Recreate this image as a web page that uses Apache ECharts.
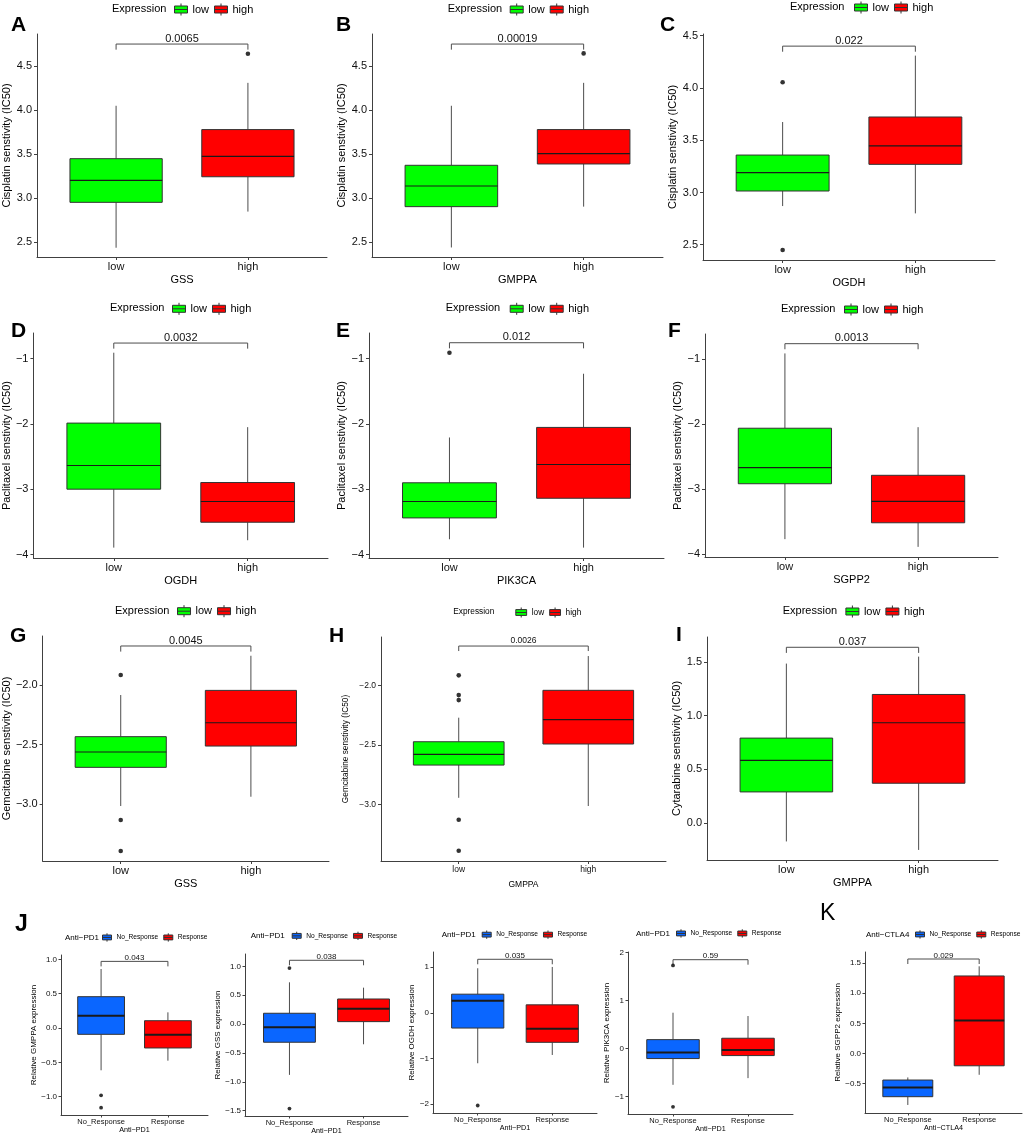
<!DOCTYPE html>
<html>
<head>
<meta charset="utf-8">
<script src="https://cdn.jsdelivr.net/npm/echarts@6/dist/echarts.min.js"></script>
<style>
html, body { margin: 0; padding: 0; background: #fff; }
#container { width: 1024px; height: 1137px; }
</style>
</head>
<body>
<div id="container"></div>
<script type="text/javascript">
// group names
var groupsExpr = ['low', 'high'];
var groupsResp = ['No_Response', 'Response'];

// box stats are [min, q1, median, q3, max]; outliers are [group, value]
var A_low = [2.44, 2.955, 3.205, 3.45, 4.05];
var A_high = [2.85, 3.245, 3.477, 3.78, 4.31];
var A_out = [[2, 4.64]];
var A_ticks = ['2.5', '3.0', '3.5', '4.0', '4.5'];

var B_low = [2.443, 2.906, 3.14, 3.375, 4.05];
var B_high = [2.906, 3.39, 3.508, 3.78, 4.31];
var B_out = [[2, 4.644]];
var B_ticks = ['2.5', '3.0', '3.5', '4.0', '4.5'];

var C_low = [2.87, 3.014, 3.189, 3.358, 3.674];
var C_high = [2.80, 3.269, 3.445, 3.722, 4.309];
var C_out = [[1, 4.054], [1, 2.449]];
var C_ticks = ['2.5', '3.0', '3.5', '4.0', '4.5'];

var D_low = [-3.893, -2.998, -2.635, -1.986, -0.908];
var D_high = [-3.78, -3.504, -3.187, -2.896, -2.048];
var D_out = [];
var D_ticks = ['−4', '−3', '−2', '−1'];

var E_low = [-3.765, -3.438, -3.187, -2.90, -2.206];
var E_high = [-3.893, -3.137, -2.62, -2.052, -1.23];
var E_out = [[1, -0.908]];
var E_ticks = ['−4', '−3', '−2', '−1'];

var F_low = [-3.767, -2.914, -2.667, -2.059, -0.907];
var F_high = [-3.886, -3.515, -3.185, -2.784, -2.043];
var F_out = [];
var F_ticks = ['−4', '−3', '−2', '−1'];

var G_low = [-3.017, -2.692, -2.563, -2.434, -2.084];
var G_high = [-2.939, -2.513, -2.317, -2.045, -1.754];
var G_out = [[1, -1.916], [1, -3.134], [1, -3.395]];
var G_ticks = ['−3.0', '−2.5', '−2.0'];

var H_low = [-2.945, -2.67, -2.58, -2.474, -2.272];
var H_high = [-3.014, -2.493, -2.289, -2.042, -1.754];
var H_out = [[1, -1.916], [1, -2.082], [1, -2.124], [1, -3.129], [1, -3.39]];
var H_ticks = ['−3.0', '−2.5', '−2.0'];

var I_low = [-0.174, 0.288, 0.583, 0.79, 1.485];
var I_high = [-0.253, 0.369, 0.933, 1.197, 1.55];
var I_out = [];
var I_ticks = ['0.0', '0.5', '1.0', '1.5'];

var J1_no = [-0.616, -0.092, 0.179, 0.456, 0.859];
var J1_yes = [-0.476, -0.291, -0.097, 0.106, 0.228];
var J1_out = [[1, -0.98], [1, -1.16]];
var J1_ticks = ['−1.0', '−0.5', '0.0', '0.5', '1.0'];

var J2_no = [-0.88, -0.315, -0.055, 0.187, 0.723];
var J2_yes = [-0.35, 0.042, 0.266, 0.434, 0.63];
var J2_out = [[1, 0.97], [1, -1.464]];
var J2_ticks = ['−1.5', '−1.0', '−0.5', '0.0', '0.5', '1.0'];

var J3_no = [-1.108, -0.335, 0.263, 0.409, 0.978];
var J3_yes = [-0.926, -0.648, -0.35, 0.175, 1.007];
var J3_out = [[1, -2.035]];
var J3_ticks = ['−2', '−1', '0', '1'];

var J4_no = [-0.753, -0.207, -0.083, 0.187, 0.747];
var J4_yes = [-0.614, -0.145, -0.027, 0.216, 0.678];
var J4_out = [[1, 1.73], [1, -1.21]];
var J4_ticks = ['−1', '0', '1', '2'];

var K_no = [-0.852, -0.715, -0.561, -0.439, -0.396];
var K_yes = [-0.352, -0.203, 0.546, 1.285, 1.445];
var K_out = [];
var K_ticks = ['−0.5', '0.0', '0.5', '1.0', '1.5'];

// p values and bracket heights, in panel order A..K
var pValues = ['0.0065', '0.00019', '0.022', '0.0032', '0.012', '0.0013', '0.0045', '0.0026', '0.037',
               '0.043', '0.038', '0.035', '0.59', '0.029'];
var bracketY = [4.75, 4.75, 4.40, -0.76, -0.755, -0.757, -1.672, -1.67, 1.637,
                0.97, 1.104, 1.175, 1.85, 1.566];

var TXT = '"Liberation Sans", Arial, Helvetica, sans-serif';
var GREEN = '#00ff00', RED = '#ff0000', BLUE = '#0a66ff';

var sizes = {
    big:   {tick: 11, ytitle: 11, xlab: 11, xtitle: 11, legTitle: 11, legItem: 11, pval: 11, pOff: 5.4,
            iconW: 13, iconH: 12, dot: 4.6, median: 1.2, tip: 5.6, lmx: 4, lmy: 5, tickLen: 3},
    small: {tick: 8.5, ytitle: 8.3, xlab: 8.5, xtitle: 8.5, legTitle: 8.3, legItem: 8.3, pval: 8.5, pOff: 5,
            iconW: 11, iconH: 10, dot: 4.6, median: 1.2, tip: 5, lmx: 4, lmy: 5, tickLen: 3},
    tiny:  {tick: 8, ytitle: 8, xlab: 7.5, xtitle: 7.2, legTitle: 8, legItem: 6.6, pval: 8, pOff: 3.4,
            iconW: 9, iconH: 9, dot: 3.8, median: 2, tip: 5, lmx: 3, lmy: 4, tickLen: 2.5}
};

var panels = [
    {grid: [37, 34, 290, 223], ylim: [2.335, 4.864], ticks: A_ticks, groups: groupsExpr, colors: [GREEN, RED], a: A_low, b: A_high, out: A_out,
     ytitle: 'Cisplatin senstivity (IC50)', xtitle: 'GSS', legTitle: 'Expression', leg: [112, 9, 62], yGap: 23, xGap: 17, size: 'big', letter: ['A', 11, 25.5]},
    {grid: [372, 34, 291, 223], ylim: [2.335, 4.864], ticks: B_ticks, groups: groupsExpr, colors: [GREEN, RED], a: B_low, b: B_high, out: B_out,
     ytitle: 'Cisplatin senstivity (IC50)', xtitle: 'GMPPA', legTitle: 'Expression', leg: [447.7, 9, 62], yGap: 23.5, xGap: 17, size: 'big', letter: ['B', 336, 25.5]},
    {grid: [703, 34, 292, 226], ylim: [2.354, 4.516], ticks: C_ticks, groups: groupsExpr, colors: [GREEN, RED], a: C_low, b: C_high, out: C_out,
     ytitle: 'Cisplatin senstivity (IC50)', xtitle: 'OGDH', legTitle: 'Expression', leg: [790, 7, 64], yGap: 23.5, xGap: 17.8, size: 'big', letter: ['C', 660, 25]},
    {grid: [33, 333, 295, 225], ylim: [-4.052, -0.606], ticks: D_ticks, groups: groupsExpr, colors: [GREEN, RED], a: D_low, b: D_high, out: D_out,
     ytitle: 'Paclitaxel senstivity (IC50)', xtitle: 'OGDH', legTitle: 'Expression', leg: [110, 308.3, 62], yGap: 20, xGap: 17.5, size: 'big', letter: ['D', 11, 331]},
    {grid: [369, 333, 295, 225], ylim: [-4.052, -0.606], ticks: E_ticks, groups: groupsExpr, colors: [GREEN, RED], a: E_low, b: E_high, out: E_out,
     ytitle: 'Paclitaxel senstivity (IC50)', xtitle: 'PIK3CA', legTitle: 'Expression', leg: [445.7, 308.3, 64], yGap: 22, xGap: 17.5, size: 'big', letter: ['E', 336, 331]},
    {grid: [705, 334, 293, 223], ylim: [-4.042, -0.608], ticks: F_ticks, groups: groupsExpr, colors: [GREEN, RED], a: F_low, b: F_high, out: F_out,
     ytitle: 'Paclitaxel senstivity (IC50)', xtitle: 'SGPP2', legTitle: 'Expression', leg: [781, 309, 63], yGap: 20.5, xGap: 17.5, size: 'big', letter: ['F', 668, 331]},
    {grid: [42, 636, 287, 225], ylim: [-3.479, -1.588], ticks: G_ticks, groups: groupsExpr, colors: [GREEN, RED], a: G_low, b: G_high, out: G_out,
     ytitle: 'Gemcitabine senstivity (IC50)', xtitle: 'GSS', legTitle: 'Expression', leg: [115, 610.7, 62], yGap: 30, xGap: 17.5, size: 'big', letter: ['G', 10, 636]},
    {grid: [381, 637, 285, 224], ylim: [-3.476, -1.594], ticks: H_ticks, groups: groupsExpr, colors: [GREEN, RED], a: H_low, b: H_high, out: H_out,
     ytitle: 'Gemcitabine senstivity (IC50)', xtitle: 'GMPPA', legTitle: 'Expression', leg: [453.3, 612, 62], yGap: 31, xGap: 19, size: 'small', letter: ['H', 329, 636]},
    {grid: [707, 637, 291, 223], ylim: [-0.347, 1.733], ticks: I_ticks, groups: groupsExpr, colors: [GREEN, RED], a: I_low, b: I_high, out: I_out,
     ytitle: 'Cytarabine senstivity (IC50)', xtitle: 'GMPPA', legTitle: 'Expression', leg: [782.7, 611, 62.7], yGap: 23.5, xGap: 17.5, size: 'big', letter: ['I', 676, 635.5]},
    {grid: [61, 955, 147, 160], ylim: [-1.267, 1.063], ticks: J1_ticks, groups: groupsResp, colors: [BLUE, RED], a: J1_no, b: J1_yes, out: J1_out,
     ytitle: 'Relative GMPPA expression', xtitle: 'Anti\u2212PD1', legTitle: 'Anti\u2212PD1', leg: [65, 937.3, 37], yGap: 20, xGap: 11.7, size: 'tiny', letter: ['J', 15, 924.5]},
    {grid: [245, 954, 163, 162], ylim: [-1.592, 1.213], ticks: J2_ticks, groups: groupsResp, colors: [BLUE, RED], a: J2_no, b: J2_yes, out: J2_out,
     ytitle: 'Relative GSS expression', xtitle: 'Anti\u2212PD1', legTitle: 'Anti\u2212PD1', leg: [250.7, 935.7, 41], yGap: 22.5, xGap: 12, size: 'tiny'},
    {grid: [433, 952, 164, 161], ylim: [-2.2, 1.335], ticks: J3_ticks, groups: groupsResp, colors: [BLUE, RED], a: J3_no, b: J3_yes, out: J3_out,
     ytitle: 'Relative OGDH expression', xtitle: 'Anti\u2212PD1', legTitle: 'Anti\u2212PD1', leg: [441.7, 934.5, 40], yGap: 14.5, xGap: 12, size: 'tiny'},
    {grid: [628, 952, 165, 162], ylim: [-1.36, 2.01], ticks: J4_ticks, groups: groupsResp, colors: [BLUE, RED], a: J4_no, b: J4_yes, out: J4_out,
     ytitle: 'Relative PIK3CA expression', xtitle: 'Anti\u2212PD1', legTitle: 'Anti\u2212PD1', leg: [636, 933.3, 40], yGap: 15, xGap: 12, size: 'tiny'},
    {grid: [865, 952, 157, 161], ylim: [-0.985, 1.682], ticks: K_ticks, groups: groupsResp, colors: [BLUE, RED], a: K_no, b: K_yes, out: K_out,
     ytitle: 'Relative SGPP2 expression', xtitle: 'Anti\u2212CTLA4', legTitle: 'Anti\u2212CTLA4', leg: [866, 934.3, 49], yGap: 20, xGap: 11.5, size: 'tiny', letter: ['K', 820, 913.5, 'normal']}
];

// legend key like ggplot's boxplot key
var boxIcon = 'path://M0,2.5H13V9.5H0Z M0,6H13 M6.5,0V2.5 M6.5,9.5V12';

function tickNum(s) {
    return Number(s.replace('\u2212', '-'));
}

function makeBox(sty) {
    return function (params, api) {
        var x = api.value(0);
        var pLo = api.coord([x, api.value(1)]);
        var pQ1 = api.coord([x, api.value(2)]);
        var pMd = api.coord([x, api.value(3)]);
        var pQ3 = api.coord([x, api.value(4)]);
        var pHi = api.coord([x, api.value(5)]);
        var w = api.size([0.7, 0])[0];
        var cx = pMd[0];
        return {
            type: 'group',
            children: [
                {type: 'line', shape: {x1: cx, y1: pQ3[1], x2: cx, y2: pHi[1]}, style: {stroke: '#4d4d4d', lineWidth: 1}},
                {type: 'line', shape: {x1: cx, y1: pQ1[1], x2: cx, y2: pLo[1]}, style: {stroke: '#4d4d4d', lineWidth: 1}},
                {type: 'rect', shape: {x: cx - w / 2, y: pQ3[1], width: w, height: pQ1[1] - pQ3[1]},
                 style: {fill: api.visual('color'), stroke: '#333', lineWidth: 1}},
                {type: 'line', shape: {x1: cx - w / 2, y1: pMd[1], x2: cx + w / 2, y2: pMd[1]},
                 style: {stroke: '#1a1a1a', lineWidth: sty.median}}
            ]
        };
    };
}

function makeBracket(sty, label) {
    return function (params, api) {
        var p1 = api.coord([api.value(0), api.value(2)]);
        var p2 = api.coord([api.value(1), api.value(2)]);
        var t = sty.tip;
        return {
            type: 'group',
            children: [
                {type: 'polyline', shape: {points: [[p1[0], p1[1] + t], [p1[0], p1[1]], [p2[0], p2[1]], [p2[0], p2[1] + t]]},
                 style: {stroke: '#4d4d4d', lineWidth: 1, fill: null}},
                {type: 'text', x: (p1[0] + p2[0]) / 2, y: p1[1] - sty.pOff,
                 style: {text: label, fontSize: sty.pval, fontFamily: TXT, fill: '#111', align: 'center', verticalAlign: 'middle'}}
            ]
        };
    };
}

var option = {
    animation: false,
    textStyle: {fontFamily: TXT},
    grid: [], xAxis: [], yAxis: [], series: [], legend: [], graphic: []
};

panels.forEach(function (pn, i) {
    var sty = sizes[pn.size];
    var tickVals = pn.ticks.map(tickNum);
    option.grid.push({left: pn.grid[0], top: pn.grid[1], width: pn.grid[2], height: pn.grid[3]});
    option.xAxis.push({
        type: 'value', gridIndex: i, min: 0.4, max: 2.6,
        axisLine: {show: true, onZero: false, lineStyle: {color: '#404040', width: 1}},
        axisTick: {show: true, customValues: [1, 2], length: sty.tickLen, lineStyle: {color: '#404040'}},
        axisLabel: {customValues: [1, 2], fontSize: sty.xlab, color: '#111', margin: sty.lmx,
                    formatter: function (v) { return pn.groups[Math.round(v) - 1]; }},
        splitLine: {show: false},
        name: pn.xtitle, nameLocation: 'middle', nameGap: pn.xGap,
        nameTextStyle: {fontSize: sty.xtitle, color: '#000'}
    });
    option.yAxis.push({
        type: 'value', gridIndex: i, min: pn.ylim[0], max: pn.ylim[1],
        axisLine: {show: true, onZero: false, lineStyle: {color: '#404040', width: 1}},
        axisTick: {show: true, customValues: tickVals, length: sty.tickLen, lineStyle: {color: '#404040'}},
        axisLabel: {customValues: tickVals, fontSize: sty.tick, color: '#111', margin: sty.lmy,
                    formatter: function (v) {
                        for (var k = 0; k < tickVals.length; k++) {
                            if (Math.abs(tickVals[k] - v) < 1e-6) return pn.ticks[k];
                        }
                        return '';
                    }},
        splitLine: {show: false},
        name: pn.ytitle, nameLocation: 'middle', nameGap: pn.yGap,
        nameTextStyle: {fontSize: sty.ytitle, color: '#000'}
    });

    var boxRender = makeBox(sty);
    option.series.push({
        type: 'custom', name: pn.groups[0], xAxisIndex: i, yAxisIndex: i, silent: true,
        itemStyle: {color: pn.colors[0]}, renderItem: boxRender,
        data: [[1].concat(pn.a)]
    });
    option.series.push({
        type: 'custom', name: pn.groups[1], xAxisIndex: i, yAxisIndex: i, silent: true,
        itemStyle: {color: pn.colors[1]}, renderItem: boxRender,
        data: [[2].concat(pn.b)]
    });
    option.series.push({
        type: 'scatter', xAxisIndex: i, yAxisIndex: i, silent: true,
        symbol: 'circle', symbolSize: sty.dot, itemStyle: {color: '#000'},
        data: pn.out
    });
    option.series.push({
        type: 'custom', xAxisIndex: i, yAxisIndex: i, silent: true,
        renderItem: makeBracket(sty, pValues[i]),
        data: [[1, 2, bracketY[i]]]
    });

    option.legend.push({
        data: pn.groups, orient: 'horizontal', padding: 0,
        left: pn.leg[0] + pn.leg[2], top: pn.leg[1] - sty.iconH / 2,
        itemWidth: sty.iconW, itemHeight: sty.iconH, itemGap: 5,
        icon: boxIcon, selectedMode: false,
        itemStyle: {borderColor: '#333', borderWidth: 1},
        textStyle: {fontSize: sty.legItem, color: '#000', fontFamily: TXT}
    });
    option.graphic.push({
        type: 'text', x: pn.leg[0], y: pn.leg[1], silent: true,
        style: {text: pn.legTitle, fontSize: sty.legTitle, fontFamily: TXT, fill: '#000', verticalAlign: 'middle'}
    });
    if (pn.letter) {
        var big = pn.letter[0] === 'J' || pn.letter[0] === 'K';
        option.graphic.push({
            type: 'text', x: pn.letter[1], y: pn.letter[2], silent: true,
            style: {text: pn.letter[0], fontSize: big ? 23 : 21, fontWeight: pn.letter[3] || 'bold',
                    fontFamily: TXT, fill: '#000', verticalAlign: 'middle'}
        });
    }
});

var myChart = echarts.init(document.getElementById('container'));
myChart.setOption(option);
</script>
</body>
</html>
